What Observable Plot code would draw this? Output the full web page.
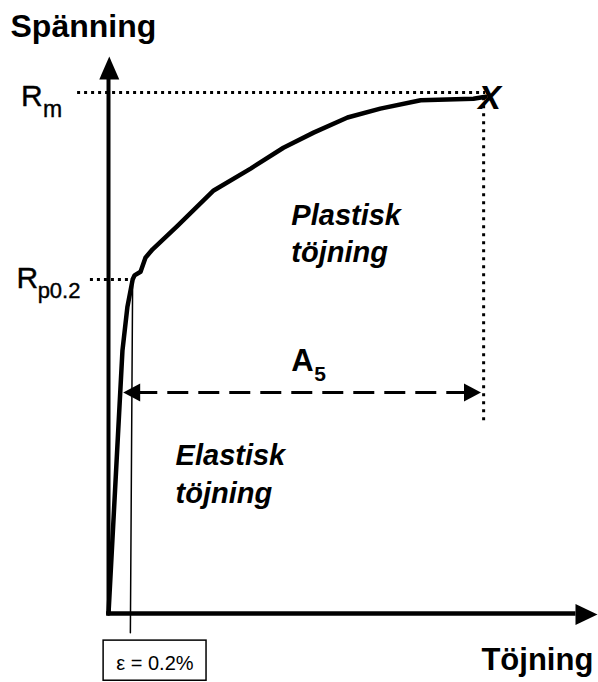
<!DOCTYPE html>
<html>
<head>
<meta charset="utf-8">
<script src="https://cdn.jsdelivr.net/npm/d3@7"></script>
<script src="https://cdn.jsdelivr.net/npm/@observablehq/plot@0.6"></script>
<style>
  html, body { margin: 0; padding: 0; background: #fff; }
  #chart svg { display: block; overflow: visible; }
</style>
</head>
<body>
<div id="chart"></div>
<script>
// Stress–strain curve (strain and stress in relative units; Rm = 100)
const strain = [0, 3.7, 5.0, 6.4, 6.9, 8.5, 9.8, 11.7, 18.3, 27.9, 37.7, 46.4, 54.4, 63.4, 72.1, 82.8, 96.8, 100];
const stress = [0, 50.5, 58.8, 64.1, 64.9, 65.6, 68.3, 69.9, 74.4, 81.2, 85.4, 89.4, 92.3, 95.2, 96.9, 98.5, 98.8, 99.2];

const Rm = 100;          // tensile strength level
const Rp02 = 64.1;       // proof stress level
const epsTop = 6.4;      // 0.2 % offset line, top
const epsBottom = 5.8;   // 0.2 % offset line, bottom
const A5 = 100;          // strain at fracture
const A5Level = 42.4;    // height of the A5 arrow
const axisTopY = 106.9;  // tip of stress axis
const axisRightX = 129.7;// tip of strain axis

const labels = {
  yTitle: "Spänning",
  xTitle: "Töjning",
  rm: ["R", "m"],
  rp: ["R", "p0.2"],
  a5: ["A", "5"],
  plastic: "Plastisk\ntöjning",
  elastic: "Elastisk\ntöjning",
  eps: "ε = 0.2%",
  fracture: "X"
};

const curve = strain.map((s, i) => ({strain: s, stress: stress[i]}));
const end = curve[curve.length - 1];

const arrowHead = (len, wid) => ({
  draw(ctx, size) {
    const r = Math.sqrt(size / Math.PI);
    ctx.moveTo(0, 0);
    ctx.lineTo(-wid * r / 2, len * r);
    ctx.lineTo(wid * r / 2, len * r);
    ctx.closePath();
  }
});

const font = "'Liberation Sans', Arial, Helvetica, sans-serif";

const chart = Plot.plot({
  width: 598,
  height: 682,
  margin: 0,
  x: {domain: [-28.65, 129.97], range: [0, 598], axis: null},
  y: {domain: [-13.24, 117.66], range: [682, 0], axis: null},
  style: {fontFamily: font, background: "white"},
  marks: [
    // dotted guide lines
    Plot.ruleY([Rm], {x1: -8.2, x2: A5, stroke: "black", strokeWidth: 3, strokeDasharray: "3,4"}),
    Plot.ruleX([A5 - 0.5], {y1: Rm - 1, y2: 37, stroke: "black", strokeWidth: 3, strokeDasharray: "3,5"}),
    Plot.ruleY([Rp02], {x1: -4.8, x2: epsTop, stroke: "black", strokeWidth: 3, strokeDasharray: "3,4"}),
    // 0.2% offset line
    Plot.line([{x: epsTop, y: Rp02}, {x: epsBottom, y: -3.7}], {x: "x", y: "y", stroke: "black", strokeWidth: 1.5}),
    // axes
    Plot.ruleX([0], {y1: -0.3, y2: 102.5, stroke: "black", strokeWidth: 4}),
    Plot.ruleY([0], {x1: -0.5, x2: 124, stroke: "black", strokeWidth: 4.5}),
    Plot.dot([{x: 0.2, y: axisTopY}], {x: "x", y: "y", r: 1, symbol: arrowHead(23, 20), fill: "black", stroke: "none"}),
    Plot.dot([{x: axisRightX, y: -0.2}], {x: "x", y: "y", r: 1, symbol: arrowHead(22, 21), rotate: 90, fill: "black", stroke: "none"}),
    // curve
    Plot.line(curve, {x: "strain", y: "stress", stroke: "black", strokeWidth: 4.5, strokeLinejoin: "round", strokeLinecap: "round"}),
    // A5 dashed double arrow
    Plot.ruleY([A5Level], {x1: 7.5, x2: 95, stroke: "black", strokeWidth: 3, strokeDasharray: "21,10"}),
    Plot.dot([{x: 3.9, y: A5Level}], {x: "x", y: "y", r: 1, symbol: arrowHead(17, 18), rotate: -90, fill: "black", stroke: "none"}),
    Plot.dot([{x: 98.8, y: A5Level}], {x: "x", y: "y", r: 1, symbol: arrowHead(17, 18), rotate: 90, fill: "black", stroke: "none"}),
    // fracture mark
    Plot.text([labels.fracture], {x: end.strain, y: end.stress, dx: 4, dy: 1, fontSize: 34, fontWeight: "bold", fontStyle: "italic", textAnchor: "middle", lineAnchor: "middle", fill: "black"}),
    // axis titles
    Plot.text([labels.yTitle], {x: -26.0, y: 110.6, fontSize: 32, fontWeight: "bold", textAnchor: "start", lineAnchor: "bottom", fill: "black"}),
    Plot.text([labels.xTitle], {x: 128.6, y: -10.9, fontSize: 31, fontWeight: "bold", textAnchor: "end", lineAnchor: "bottom", fill: "black"}),
    // Rm
    Plot.text([labels.rm[0]], {x: -23.2, y: Rm, dy: 13, fontSize: 30, textAnchor: "start", lineAnchor: "bottom", fill: "black", stroke: "black", strokeWidth: 0.4}),
    Plot.text([labels.rm[1]], {x: -17.4, y: Rm, dy: 24, fontSize: 23, textAnchor: "start", lineAnchor: "bottom", fill: "black", stroke: "black", strokeWidth: 0.4}),
    // Rp0.2
    Plot.text([labels.rp[0]], {x: -24.4, y: Rp02, dy: 8, fontSize: 30, textAnchor: "start", lineAnchor: "bottom", fill: "black", stroke: "black", strokeWidth: 0.4}),
    Plot.text([labels.rp[1]], {x: -18.8, y: Rp02, dy: 18, fontSize: 22, textAnchor: "start", lineAnchor: "bottom", fill: "black", stroke: "black", strokeWidth: 0.4}),
    // A5
    Plot.text([labels.a5[0]], {x: 48.5, y: A5Level, dy: -22, fontSize: 31, fontWeight: "bold", textAnchor: "start", lineAnchor: "bottom", fill: "black"}),
    Plot.text([labels.a5[1]], {x: 54.6, y: A5Level, dy: -12, fontSize: 21, fontWeight: "bold", textAnchor: "start", lineAnchor: "bottom", fill: "black"}),
    // region labels
    Plot.text([labels.plastic], {x: 48.5, y: 67.4, fontSize: 29, fontWeight: "bold", fontStyle: "italic", lineHeight: 1.28, textAnchor: "start", lineAnchor: "bottom", fill: "black"}),
    Plot.text([labels.elastic], {x: 17.8, y: 21.3, fontSize: 29, fontWeight: "bold", fontStyle: "italic", lineHeight: 1.28, textAnchor: "start", lineAnchor: "bottom", fill: "black"}),
    // epsilon box
    Plot.rect([{x1: -1.3, x2: 26, y1: -5.2, y2: -12.9}], {x1: "x1", x2: "x2", y1: "y1", y2: "y2", fill: "none", stroke: "black", strokeWidth: 1.5}),
    Plot.text([labels.eps], {x: 12.3, y: -10.9, fontSize: 20, textAnchor: "middle", lineAnchor: "bottom", fill: "black"})
  ]
});

document.getElementById("chart").appendChild(chart);
</script>
</body>
</html>
